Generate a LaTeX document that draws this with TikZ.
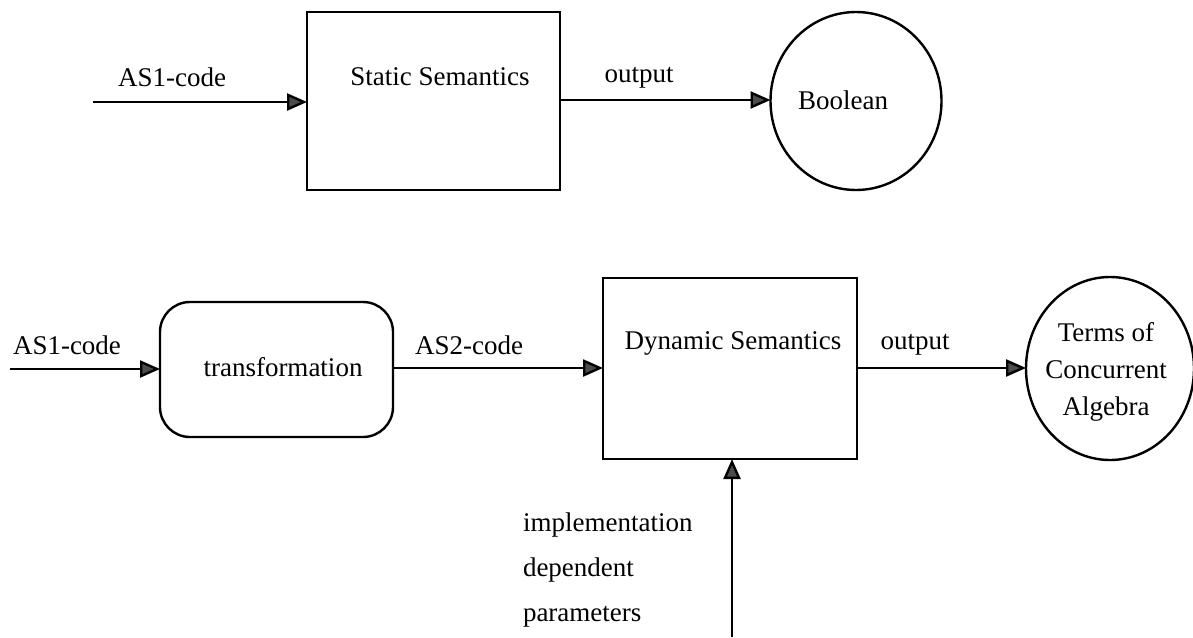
\documentclass[tikz,border=0pt]{standalone}
\usepackage{fontspec}
\setmainfont{Liberation Serif}
\usetikzlibrary{arrows.meta,shapes.geometric}
\begin{document}
\begin{tikzpicture}[x=0.5pt,y=-0.5pt,
  every node/.style={font=\fontsize{13.5}{18.5}\selectfont, inner sep=0pt, outer sep=0pt},
  lw/.style={line width=1.2pt},
  boxsq/.style={draw, lw, rectangle},
  boxrd/.style={draw, lw, rectangle, rounded corners=15pt},
  blob/.style={draw, lw, ellipse},
  flow/.style={lw, -{Triangle[length=10pt,width=8.5pt,fill=black!70]}},
  txt/.style={anchor=center}
]
\useasboundingbox (0,0) rectangle (1193,637);

% top row
\coordinate (a1) at (93,102);
\node[boxsq, minimum width=126.5pt, minimum height=89pt] (ss) at (433.5,101) {};
\node[txt] (sst) at (440,77) {Static Semantics};
\node[blob, minimum width=85.5pt, minimum height=89pt] (bool) at (856,101) {};
\node[txt] (boolt) at (843,100) {Boolean};
\node[txt] (l1) at (172,77) {AS1-code};
\node[txt] (l2) at (639,78) {output};
\draw[flow] (a1) -- (a1 -| ss.west);
\draw[flow] (ss.east |- 0,100) -- (bool.west |- 0,100);

% bottom row
\coordinate (a2) at (10,369);
\node[boxrd, minimum width=116.5pt, minimum height=67.5pt] (tr) at (276.5,369.5) {};
\node[txt] (trt) at (283,367) {transformation};
\node[boxsq, minimum width=127pt, minimum height=90.5pt] (ds) at (730,368.5) {};
\node[txt] (dst) at (733,343) {Dynamic Semantics};
\node[blob, minimum width=84pt, minimum height=91.5pt] (terms) at (1110,368.5) {};
\node[txt, align=center] (termst) at (1106,372) {Terms of\\Concurrent\\Algebra};
\node[txt] (l3) at (67,345) {AS1-code};
\node[txt] (l4) at (469,345) {AS2-code};
\node[txt] (l5) at (915,345) {output};
\draw[flow] (a2) -- (a2 -| tr.west);
\draw[flow] (tr.east |- 0,368) -- (ds.west |- 0,368);
\draw[flow] (ds.east |- 0,368) -- (terms.west |- 0,368);

% parameters
\coordinate (p) at (732,637);
\draw[flow] (p) -- (p |- ds.south);
\node[anchor=west, align=left, font=\fontsize{13.5}{22.5}\selectfont] (pt) at (523,570) {implementation\\dependent\\parameters};
\end{tikzpicture}
\end{document}
